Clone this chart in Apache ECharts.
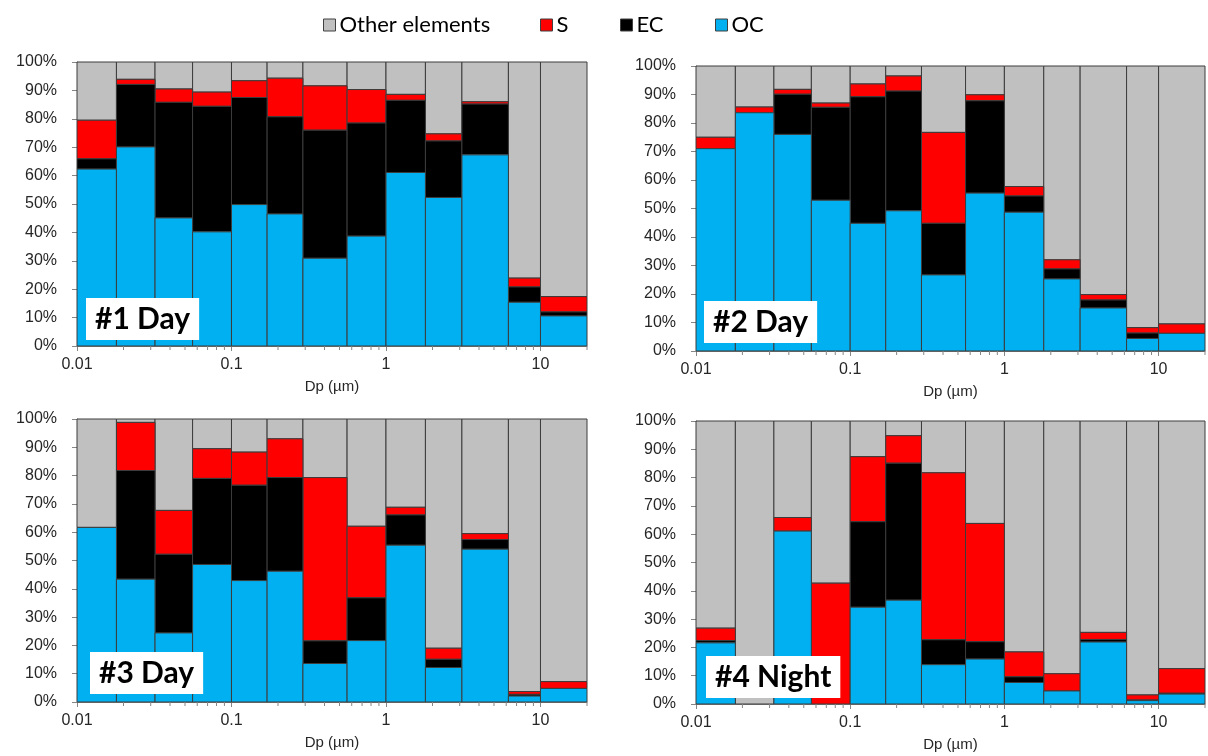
<!DOCTYPE html>
<html><head><meta charset="utf-8">
<script src="https://cdn.jsdelivr.net/npm/echarts@6/dist/echarts.min.js"></script>
<style>html,body{margin:0;padding:0;background:#fff}#c{width:1208px;height:756px}</style>
</head><body><div id="c"></div>
<script>
// ---- data ----
const binEdges = [0.01, 0.018, 0.032, 0.056, 0.1, 0.17, 0.29, 0.56, 1.0, 1.8, 3.1, 6.2, 10, 20];
const xTickLabels = [0.01, 0.1, 1, 10];
const minorTickValues = [0.02,0.03,0.04,0.05,0.06,0.07,0.08,0.09,0.2,0.3,0.4,0.5,0.6,0.7,0.8,0.9,2,3,4,5,6,7,8,9,20];
const panelTitles = ['#1 Day', '#2 Day', '#3 Day', '#4 Night'];
const seriesNames = ['Other elements', 'S', 'EC', 'OC'];

// percentages per size bin (bottom to top: OC, EC, S, Other elements)
const oc1 = [62.3, 70.1, 45.1, 40.2, 49.8, 46.5, 30.9, 38.7, 61.1, 52.3, 67.3, 15.4, 10.6];
const ec1 = [3.6, 22.0, 40.7, 44.2, 37.7, 34.2, 45.1, 39.8, 25.4, 19.9, 17.9, 5.4, 1.4];
const s1  = [13.6, 1.8, 4.7, 5.0, 5.9, 13.6, 15.6, 11.8, 2.1, 2.5, 0.8, 3.1, 5.4];
const other1 = [20.5, 6.1, 9.5, 10.6, 6.6, 5.7, 8.4, 9.7, 11.4, 25.3, 14.0, 76.1, 82.6];

const oc2 = [71.0, 83.6, 76.0, 52.9, 44.8, 49.2, 26.7, 55.4, 48.7, 25.3, 15.1, 4.4, 6.2];
const ec2 = [0, 0, 14.1, 32.6, 44.4, 42.0, 18.1, 32.4, 5.7, 3.5, 2.8, 1.9, 0];
const s2  = [4.0, 2.0, 1.7, 1.5, 4.5, 5.3, 31.9, 2.1, 3.3, 3.2, 1.9, 1.9, 3.3];
const other2 = [25.0, 14.4, 8.2, 13.0, 6.3, 3.5, 23.3, 10.1, 42.3, 68.0, 80.2, 91.8, 90.5];

const oc3 = [61.7, 43.4, 24.4, 48.6, 42.9, 46.2, 13.6, 21.7, 55.4, 12.2, 54.0, 2.1, 4.8];
const ec3 = [0, 38.4, 27.8, 30.4, 33.7, 33.1, 8.0, 15.1, 10.7, 2.9, 3.4, 0.6, 0];
const s3  = [0, 17.0, 15.5, 10.5, 11.7, 13.7, 57.7, 25.3, 2.7, 3.9, 2.1, 1.0, 2.4];
const other3 = [38.3, 1.2, 32.3, 10.5, 11.7, 7.0, 20.7, 37.9, 31.2, 81.0, 40.5, 96.3, 92.8];

const oc4 = [21.6, 0, 61.1, 0, 34.2, 36.7, 13.9, 15.9, 7.6, 4.6, 21.9, 1.2, 3.5];
const ec4 = [0.8, 0, 0, 0, 30.2, 48.4, 8.8, 6.1, 2.0, 0, 0.9, 0.2, 0.3];
const s4  = [4.4, 0, 4.8, 42.7, 23.0, 9.7, 59.0, 41.8, 8.8, 6.1, 2.5, 1.8, 8.7];
const other4 = [73.2, 100, 34.1, 57.3, 12.6, 5.2, 18.3, 36.2, 81.6, 89.3, 74.7, 96.8, 87.5];

// ---- layout / style ----
const panels = [
  {oc: oc1, ec: ec1, s: s1, other: other1},
  {oc: oc2, ec: ec2, s: s2, other: other2},
  {oc: oc3, ec: ec3, s: s3, other: other3},
  {oc: oc4, ec: ec4, s: s4, other: other4}
];
const grids = [
  {left: 77, top: 62, width: 510, height: 284},
  {left: 696, top: 66, width: 509, height: 285},
  {left: 77, top: 419, width: 510, height: 283},
  {left: 696, top: 421, width: 509, height: 283}
];
const titleBoxes = [
  {left: 86, top: 299}, {left: 704, top: 302}, {left: 90, top: 653}, {left: 706, top: 657}
];
const legendLefts = [318, 535, 615, 710];
const colors = {'Other elements': '#C0C0C0', 'S': '#FF0000', 'EC': '#000000', 'OC': '#00B0F0'};
const axisGrey = '#868686';
const labelColor = '#262626';

function renderRect(params, api) {
  const yb = api.value(2), yt = api.value(3);
  if (yt - yb <= 0) return null;
  const p0 = api.coord([api.value(0), yt]);
  const p1 = api.coord([api.value(1), yb]);
  return {
    type: 'rect',
    shape: {x: p0[0], y: p0[1], width: p1[0] - p0[0], height: p1[1] - p0[1]},
    style: {fill: api.visual('color'), stroke: '#3c3c3c', lineWidth: 1}
  };
}
function renderMinorTick(params, api) {
  const p = api.coord([api.value(0), 0]);
  return {type: 'line', shape: {x1: p[0], y1: p[1], x2: p[0], y2: p[1] + 4},
          style: {stroke: axisGrey, lineWidth: 1}};
}

const option = {
  backgroundColor: '#fff',
  animation: false,
  title: panelTitles.map((t, i) => ({
    text: t, left: titleBoxes[i].left, top: titleBoxes[i].top,
    backgroundColor: '#fff', padding: [6, 9, 6, 9],
    textStyle: {fontSize: 30, fontWeight: 'bold', fontFamily: 'Lato', color: '#000', lineHeight: 28}
  })),
  legend: seriesNames.map((n, i) => ({
    data: [n], left: legendLefts[i], top: 9, icon: 'rect',
    itemWidth: 12, itemHeight: 12, itemGap: 5,
    itemStyle: {borderColor: '#404040', borderWidth: 1},
    textStyle: {fontSize: 22, fontFamily: 'Lato', color: '#000', padding: [0, 0, 0, -1]}
  })),
  grid: grids.map(g => Object.assign({}, g)),
  xAxis: grids.map((g, i) => ({
    type: 'log', logBase: 10, gridIndex: i, min: binEdges[0], max: binEdges[binEdges.length - 1],
    name: 'Dp (µm)', nameLocation: 'middle', nameGap: 33,
    nameTextStyle: {fontSize: 15, fontFamily: 'Liberation Sans', color: labelColor},
    axisLine: {lineStyle: {color: axisGrey}},
    axisTick: {show: true, length: 5, lineStyle: {color: axisGrey}},
    splitLine: {show: false},
    axisLabel: {
      fontSize: 16, fontFamily: 'Liberation Sans', color: labelColor, margin: 11, showMaxLabel: false,
      formatter: v => { const r = parseFloat(Number(v).toPrecision(4)); return xTickLabels.includes(r) ? String(r) : ''; }
    }
  })),
  yAxis: grids.map((g, i) => ({
    type: 'value', gridIndex: i, min: 0, max: 100, interval: 10,
    axisLine: {show: true, lineStyle: {color: axisGrey}},
    axisTick: {show: true, length: 5, lineStyle: {color: axisGrey}},
    splitLine: {show: false},
    axisLabel: {fontSize: 16, fontFamily: 'Liberation Sans', color: labelColor, margin: 20, formatter: '{value}%'}
  })),
  series: []
};

panels.forEach((p, gi) => {
  const order = [['OC', p.oc], ['EC', p.ec], ['S', p.s], ['Other elements', p.other]];
  const base = binEdges.slice(0, -1).map(() => 0);
  const built = {};
  order.forEach(([name, vals]) => {
    built[name] = vals.map((v, k) => {
      const item = [binEdges[k], binEdges[k + 1], base[k], base[k] + v];
      base[k] += v;
      return item;
    });
  });
  seriesNames.forEach(name => {
    option.series.push({
      type: 'custom', name: name, xAxisIndex: gi, yAxisIndex: gi,
      renderItem: renderRect, itemStyle: {color: colors[name]},
      encode: {x: [0, 1], y: [2, 3]}, data: built[name], z: 2
    });
  });
  option.series.push({
    type: 'custom', name: 'minor', xAxisIndex: gi, yAxisIndex: gi, silent: true, clip: false,
    renderItem: renderMinorTick, encode: {x: 0}, data: minorTickValues.map(v => [v]), z: 3
  });
});

const chart = echarts.init(document.getElementById('c'), null, {renderer: 'canvas'});
chart.setOption(option);
</script>
</body></html>
